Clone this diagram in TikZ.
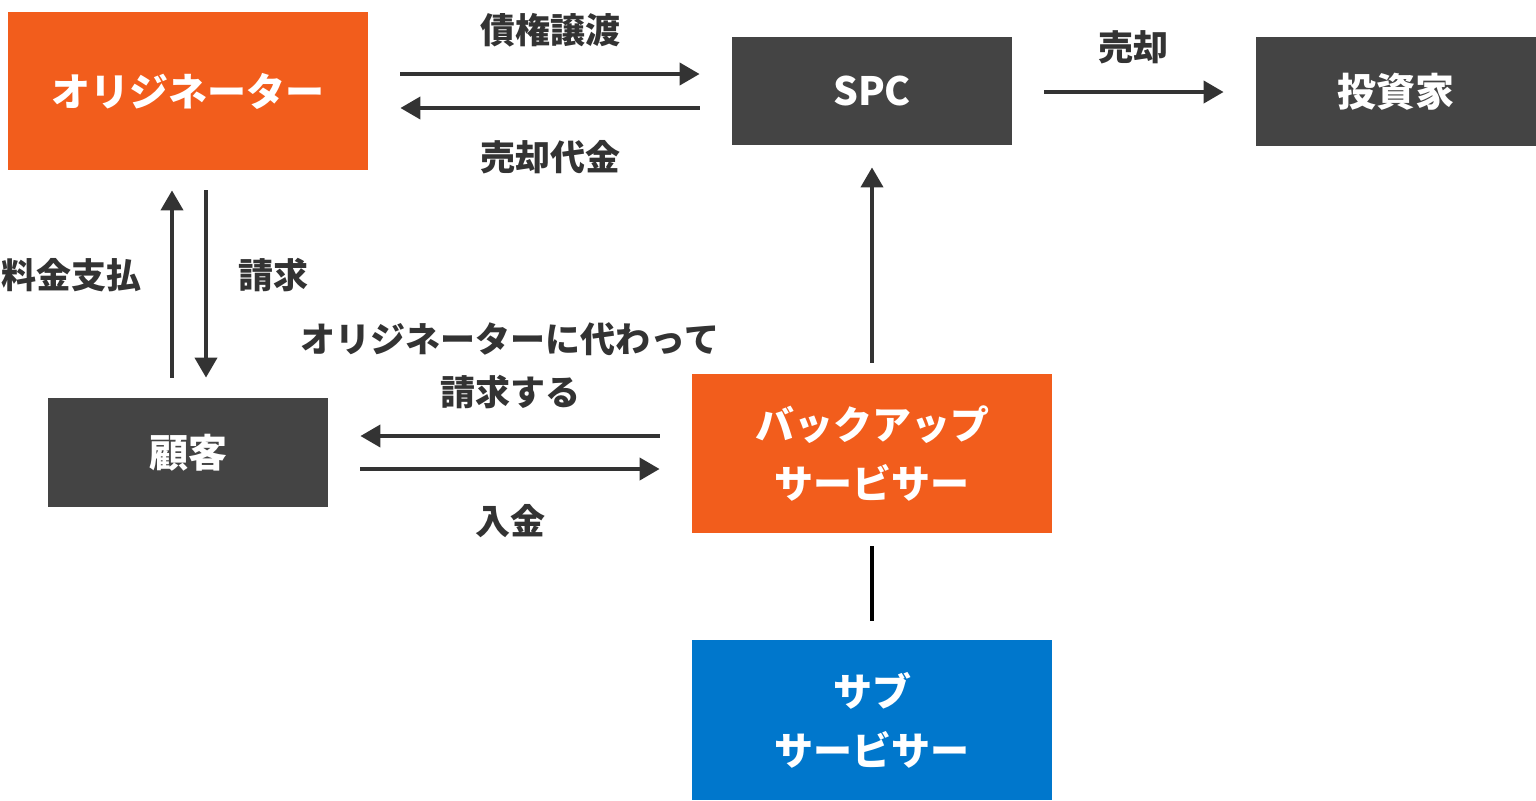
\documentclass[tikz,border=0pt]{standalone}
\usepackage{fontspec}
\setmainfont{Noto Sans CJK JP}
\usepackage{xcolor}
\usetikzlibrary{arrows.meta}

\definecolor{orgorange}{HTML}{F25D1C}
\definecolor{boxgray}{HTML}{444444}
\definecolor{subblue}{HTML}{0077CC}
\definecolor{arrgray}{HTML}{333333}

\tikzset{
  party/.style={draw=none,fill=boxgray,text=white,align=center,inner sep=0pt,
    font=\bfseries\fontsize{19.5}{29.5}\selectfont},
  orgbox/.style={party,fill=orgorange},
  bluebox/.style={party,fill=subblue},
  flow/.style={draw=arrgray,line width=2pt,-{Triangle[length=10pt,width=11pt]}},
  flowlabel/.style={text=arrgray,align=center,inner sep=0pt,
    font=\bfseries\fontsize{17.5}{26.5}\selectfont}
}

\begin{document}
\begin{tikzpicture}[x=0.5pt,y=0.5pt,yscale=-1]
\useasboundingbox (0,0) rectangle (1536,800);

% boxes
\node[orgbox,minimum width=180pt,minimum height=79pt] (orig) at (188,91) {オリジネーター};
\node[party,minimum width=140pt,minimum height=54pt] (spc) at (872,91) {SPC};
\node[party,minimum width=140pt,minimum height=54.5pt] (inv) at (1396,91.5) {投資家};
\node[party,minimum width=140pt,minimum height=54.5pt] (cust) at (188,452.5) {顧客};
\node[orgbox,minimum width=180pt,minimum height=79.5pt] (backup) at (872,453.5) {バックアップ\\サービサー};
\node[bluebox,minimum width=180pt,minimum height=80pt] (sub) at (872,720) {サブ\\サービサー};

% originator <-> SPC
\draw[flow,shorten <=16pt,shorten >=16pt] (orig.east |- 0,74) -- (spc.west |- 0,74);
\draw[flow,shorten <=16pt,shorten >=16pt] (spc.west |- 0,108) -- (orig.east |- 0,108);
\node[flowlabel] (l1) at (550,30) {債権譲渡};
\node[flowlabel] (l2) at (550,157) {売却代金};

% SPC -> investor
\draw[flow,shorten <=16pt,shorten >=16pt] (spc.east |- 0,92) -- (inv.west |- 0,92);
\node[flowlabel] (l3) at (1133,47) {売却};

% originator <-> customer
\draw[flow,shorten <=10pt,shorten >=10pt] (cust.north -| 172,0) -- (orig.south -| 172,0);
\draw[flow,shorten <=10pt,shorten >=10pt] (orig.south -| 206,0) -- (cust.north -| 206,0);
\node[flowlabel] (l4) at (72,275) {料金支払};
\node[flowlabel] (l5) at (273,275) {請求};

% backup -> SPC
\draw[flow,shorten <=5.5pt,shorten >=11pt] (backup.north) -- (spc.south);

% backup <-> customer
\draw[flow,shorten <=16pt,shorten >=16pt] (backup.west |- 0,436) -- (cust.east |- 0,436);
\draw[flow,shorten <=16pt,shorten >=16pt] (cust.east |- 0,469) -- (backup.west |- 0,469);
\node[flowlabel] (l6) at (510,366) {オリジネーターに代わって\\請求する};
\node[flowlabel] (l7) at (510,521) {入金};

% backup -- sub
\draw[black,line width=2pt,shorten <=6.5pt,shorten >=9.5pt] (backup.south) -- (sub.north);

\end{tikzpicture}
\end{document}
